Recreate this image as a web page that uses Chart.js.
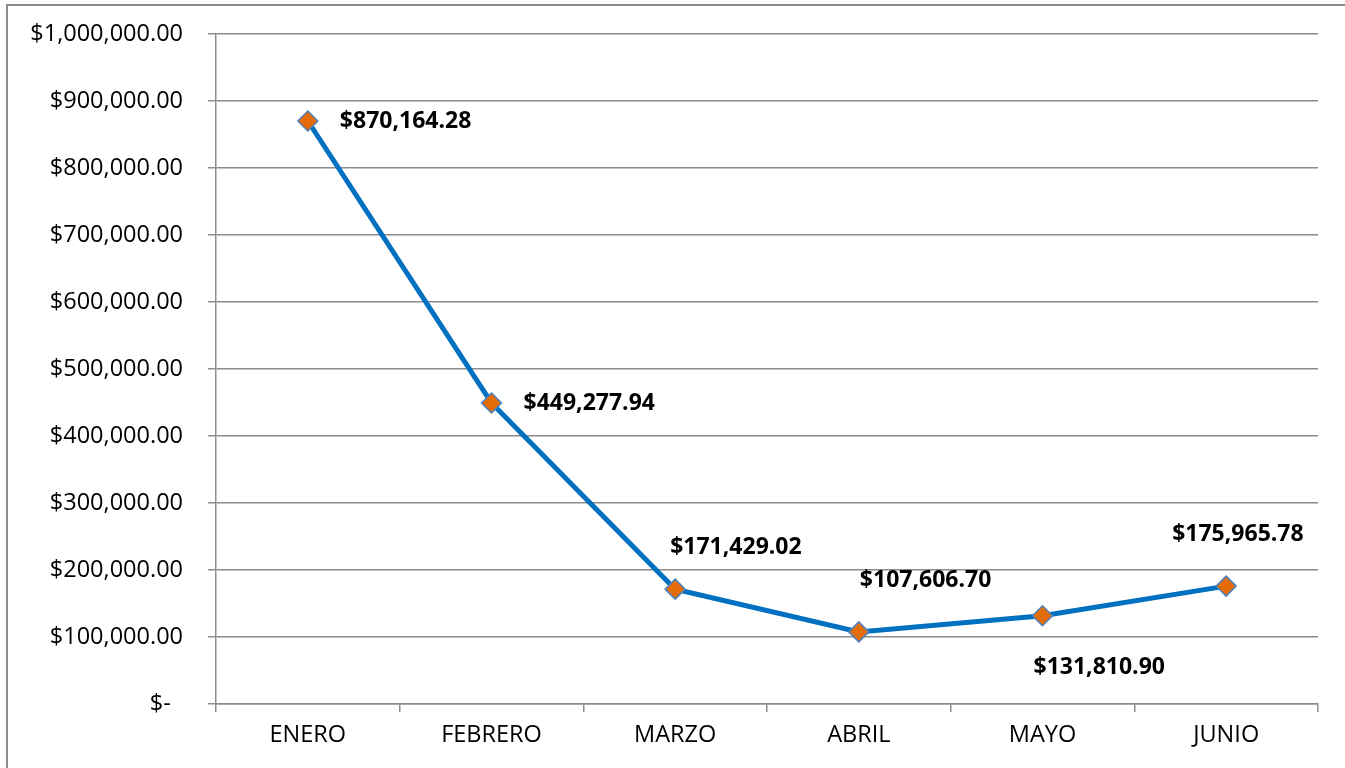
<!DOCTYPE html>
<html>
<head>
<meta charset="utf-8">
<script src="https://cdn.jsdelivr.net/npm/chart.js@4"></script>
<style>
  html, body { margin: 0; padding: 0; background: #fff; }
  #wrap { position: relative; width: 1345px; height: 768px; overflow: hidden; }
  #frame { position: absolute; left: 6px; top: 4px; width: 1400px; height: 800px; border: 2px solid #8c8c8c; box-sizing: border-box; }
  canvas { position: absolute; left: 0; top: 0; }
</style>
</head>
<body>
<div id="wrap">
  <div id="frame"></div>
  <canvas id="chart" width="1345" height="768"></canvas>
</div>
<script>
const months = ["ENERO", "FEBRERO", "MARZO", "ABRIL", "MAYO", "JUNIO"];
const totals = [870164.28, 449277.94, 171429.02, 107606.7, 131810.9, 175965.78];
const yTicks = [0, 100000, 200000, 300000, 400000, 500000, 600000, 700000, 800000, 900000, 1000000];

// label placement relative to each point (px): left edge, vertical centre
const labelOffsets = [
  [32, 0],
  [32, 0],
  [-5, -42],
  [1, -51],
  [-9, 52],
  [-54, -52],
];

const FONT = "'Open Sans', 'Noto Sans', sans-serif";

const money = (v) =>
  "$" + v.toLocaleString("en-US", { minimumFractionDigits: 2, maximumFractionDigits: 2 });

const pointLabels = {
  id: "pointLabels",
  afterDatasetsDraw: (chart) => {
    const ctx = chart.ctx;
    const meta = chart.getDatasetMeta(0);
    ctx.save();
    ctx.font = "bold 23px " + FONT;
    ctx.fillStyle = "#000";
    ctx.textAlign = "left";
    ctx.textBaseline = "middle";
    meta.data.forEach((pt, i) => {
      const [dx, dy] = labelOffsets[i];
      ctx.fillText(money(totals[i]), pt.x + dx, pt.y + dy);
    });
    ctx.restore();
  },
};

const gridColor = "#8c8c8c";

new Chart(document.getElementById("chart"), {
  type: "line",
  data: {
    labels: months,
    datasets: [
      {
        data: totals,
        borderColor: "#0070C0",
        borderWidth: 5,
        tension: 0,
        pointStyle: "rectRot",
        pointRadius: 10,
        pointBackgroundColor: "#E36C09",
        pointBorderColor: "#4F81BD",
        pointBorderWidth: 1.5,
      },
    ],
  },
  options: {
    responsive: false,
    animation: false,
    devicePixelRatio: 1,
    layout: { padding: { left: 0, right: 27, top: 34, bottom: 0 } },
    plugins: { legend: { display: false }, tooltip: { enabled: false } },
    scales: {
      x: {
        offset: true,
        grid: { offset: true, drawOnChartArea: false, tickLength: 8, color: gridColor, lineWidth: 1.5 },
        border: { color: gridColor, width: 1.5 },
        ticks: { color: "#000", font: { family: FONT, size: 23.5 }, padding: 9, maxRotation: 0 },
        afterFit: (scale) => {
          scale.height = 64;
        },
      },
      y: {
        min: 0,
        max: 1000000,
        afterBuildTicks: (scale) => {
          scale.ticks = yTicks.map((v) => ({ value: v }));
        },
        grid: { tickLength: 8, color: gridColor, lineWidth: 1.5 },
        border: { color: gridColor, width: 1.5 },
        ticks: {
          color: "#000",
          font: { family: FONT, size: 23.5 },
          padding: 25,
          callback: (v) => (v === 0 ? "$-  " : money(v)),
        },
        afterFit: (scale) => {
          scale.width = 216;
          scale.paddingTop = 0;
          scale.paddingBottom = 0;
        },
      },
    },
  },
  plugins: [pointLabels],
});
</script>
</body>
</html>
